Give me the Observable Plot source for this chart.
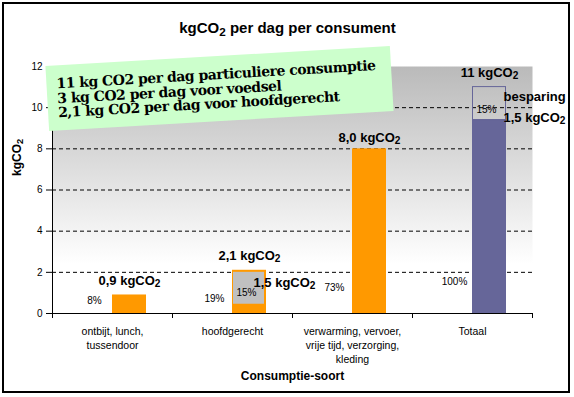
<!DOCTYPE html>
<html>
<head>
<meta charset="utf-8">
<script src="https://cdn.jsdelivr.net/npm/d3@7"></script>
<script src="https://cdn.jsdelivr.net/npm/@observablehq/plot@0.6"></script>
<style>
  html, body { margin: 0; padding: 0; background: #fff; }
  #wrap { position: relative; width: 574px; height: 397px; overflow: hidden; font-family: "Liberation Sans", Arial, sans-serif; }
  #border { position: absolute; left: 2px; top: 2px; width: 564px; height: 387px; border: 2px solid #000; pointer-events: none; }
  #note { position: absolute; left: 47px; top: 56px; width: 345px; height: 65px; background: #ccffcc;
          transform: rotate(-3.3deg); transform-origin: 50% 50%; box-sizing: border-box; padding: 11px 0 0 10px;
          font-family: "DejaVu Serif", "Liberation Serif", serif; font-weight: bold; font-size: 14px; letter-spacing: -0.5px;
          line-height: 14.5px; color: #000; white-space: nowrap; }
</style>
</head>
<body>
<div id="wrap"></div>
<script>
// ---- data ----
const categories = ["ontbijt, lunch,\ntussendoor", "hoofdgerecht", "verwarming, vervoer,\nvrije tijd, verzorging,\nkleding", "Totaal"];
const values = [0.9, 2.1, 8.0, 11];
const valueLabels = ["0,9 kgCO₂", "2,1 kgCO₂", "8,0 kgCO₂", "11 kgCO₂"];
const shares = [8, 19, 73, 100];
const shareLabels = ["8%", "19%", "73%", "100%"];
const savingCats = ["hoofdgerecht", "Totaal"];
const savingFrom = [0.45, 9.4];
const savingTo = [2.0, 11];
const savingShareLabel = ["15%", "15%"];
const savingLabel = "1,5 kgCO₂";
const yTicks = [0, 2, 4, 6, 8, 10, 12];
const gridTicks = [2, 4, 6, 8, 10];
const noteLines = ["11 kg CO2 per dag particuliere consumptie", "3 kg CO2 per dag voor voedsel", "2,1 kg CO2 per dag voor hoofdgerecht"];

const ORANGE = "#ff9900", PURPLE = "#666699", GRAY = "#c0c0c0";
const bars = categories.map((c, i) => ({cat: c, value: values[i], label: valueLabels[i], share: shares[i], shareLabel: shareLabels[i]}));
const orangeBars = bars.slice(0, 3);
const totalBar = bars[3];
const saving = savingCats.map((c, i) => ({cat: c, from: savingFrom[i], to: savingTo[i], mid: (savingFrom[i] + savingTo[i]) / 2, pct: savingShareLabel[i]}));
const savingHoofd = saving.filter(d => d.cat === "hoofdgerecht");
const savingTotal = saving.filter(d => d.cat === "Totaal");

const font = "Liberation Sans, Arial, sans-serif";

const defsMark = () => {
  const defs = d3.create("svg:defs");
  const g = defs.append("linearGradient").attr("id", "bgGrad").attr("x1", 0).attr("y1", 0).attr("x2", 0).attr("y2", 1);
  g.append("stop").attr("offset", "0%").attr("stop-color", "#bababa");
  g.append("stop").attr("offset", "80%").attr("stop-color", "#ffffff");
  g.append("stop").attr("offset", "100%").attr("stop-color", "#ffffff");
  return defs.node();
};

const chart = Plot.plot({
  width: 574,
  height: 397,
  marginLeft: 52,
  marginRight: 42,
  marginTop: 66,
  marginBottom: 84,
  style: {fontFamily: font, background: "transparent", overflow: "visible"},
  x: {domain: categories, padding: 0, axis: null},
  y: {domain: [0, 12], axis: null},
  marks: [
    defsMark,
    Plot.frame({fill: "url(#bgGrad)"}),
    Plot.ruleY(gridTicks, {stroke: "#000", strokeDasharray: "4,3", strokeWidth: 1}),
    // bars
    Plot.barY(orangeBars, {x: "cat", y: "value", fill: ORANGE, insetLeft: 60, insetRight: 26}),
    Plot.barY(savingHoofd, {x: "cat", y1: "from", y2: "to", fill: GRAY, insetLeft: 61, insetRight: 28}),
    Plot.barY(savingTotal, {x: "cat", y1: 0, y2: "from", fill: PURPLE, insetLeft: 60, insetRight: 26}),
    Plot.barY(savingTotal, {x: "cat", y1: "from", y2: "to", fill: "none", stroke: PURPLE, strokeWidth: 1, insetLeft: 60.5, insetRight: 26.5}),
    // axes
    Plot.ruleY([0], {stroke: "#000"}),
    Plot.ruleX([categories[0]], {dx: -60, y1: 0, y2: 12, stroke: "#000"}),
    Plot.axisY({ticks: yTicks, tickSize: 6, tickPadding: 4, fontSize: 10, label: null, tickFormat: d => String(d)}),
    Plot.axisX({dx: -60, tickSize: 5, tickFormat: () => "", label: null}),
    Plot.axisX({ticks: [categories[3]], dx: 60, tickSize: 5, tickFormat: () => "", label: null}),
    // category labels
    Plot.text(categories, {x: d => d, frameAnchor: "bottom", lineAnchor: "top", dy: 12, fontSize: 10.5, lineHeight: 1.33, fill: "#000"}),
    // value labels
    Plot.text(orangeBars.slice(0, 2), {x: "cat", y: "value", text: "label", dx: 17, dy: -14, fontSize: 13, fontWeight: "bold", fill: "#000"}),
    Plot.text(orangeBars.slice(2), {x: "cat", y: "value", text: "label", dx: 17, dy: -11, fontSize: 13, fontWeight: "bold", fill: "#000"}),
    Plot.text([totalBar], {x: "cat", y: "value", text: "label", dx: 17, dy: -14, fontSize: 13, fontWeight: "bold", fill: "#000"}),
    // share labels (hidden series)
    Plot.text(bars, {x: "cat", y: d => d.share / 100, text: "shareLabel", dx: -18, dy: -11, fontSize: 10, fill: "#000"}),
    // saving labels
    Plot.text(savingHoofd, {x: "cat", y: "mid", text: "pct", dx: 14, dy: 5, fontSize: 10, fill: "#000"}),
    Plot.text(savingTotal, {x: "cat", y: "mid", text: "pct", dx: 14, dy: 6, fontSize: 10, fill: "#000"}),
    Plot.text(savingHoofd, {x: "cat", y: "mid", text: () => savingLabel, dx: 21, dy: -5, textAnchor: "start", fontSize: 13, fontWeight: "bold", fill: "#000"}),
    Plot.text(savingTotal, {x: "cat", y: "mid", text: () => "besparing", dx: 31, dy: -7, textAnchor: "start", fontSize: 13, fontWeight: "bold", fill: "#000"}),
    Plot.text(savingTotal, {x: "cat", y: "mid", text: () => savingLabel, dx: 31, dy: 14, textAnchor: "start", fontSize: 13, fontWeight: "bold", fill: "#000"}),
    // titles
    Plot.text(["kgCO₂ per dag per consument"], {frameAnchor: "top", dy: -44, dx: -5, fontSize: 15, fontWeight: "bold", fill: "#000"}),
    Plot.text(["Consumptie-soort"], {frameAnchor: "bottom", dy: 66, fontSize: 12, fontWeight: "bold", fill: "#000"}),
    Plot.text(["kgCO₂"], {frameAnchor: "left", dx: -35, dy: -14, rotate: -90, fontSize: 12, fontWeight: "bold", fill: "#000"})
  ]
});

// render the "₂" as a real lowered subscript digit
d3.select(chart).selectAll("text").each(function() {
  const el = d3.select(this);
  if (el.selectAll("tspan").size() > 0) return;
  const t = el.text();
  if (!t.includes("₂")) return;
  const parts = t.split("₂");
  el.text(null);
  parts.forEach((p, i) => {
    if (p) el.append("tspan").text(p);
    if (i < parts.length - 1) el.append("tspan").attr("baseline-shift", "-22%").attr("font-size", "78%").text("2");
  });
});

const wrap = document.getElementById("wrap");
wrap.appendChild(chart);
const note = document.createElement("div");
note.id = "note";
note.innerHTML = noteLines.map(s => `<div>${s}</div>`).join("");
wrap.appendChild(note);
const border = document.createElement("div");
border.id = "border";
wrap.appendChild(border);
</script>
</body>
</html>
